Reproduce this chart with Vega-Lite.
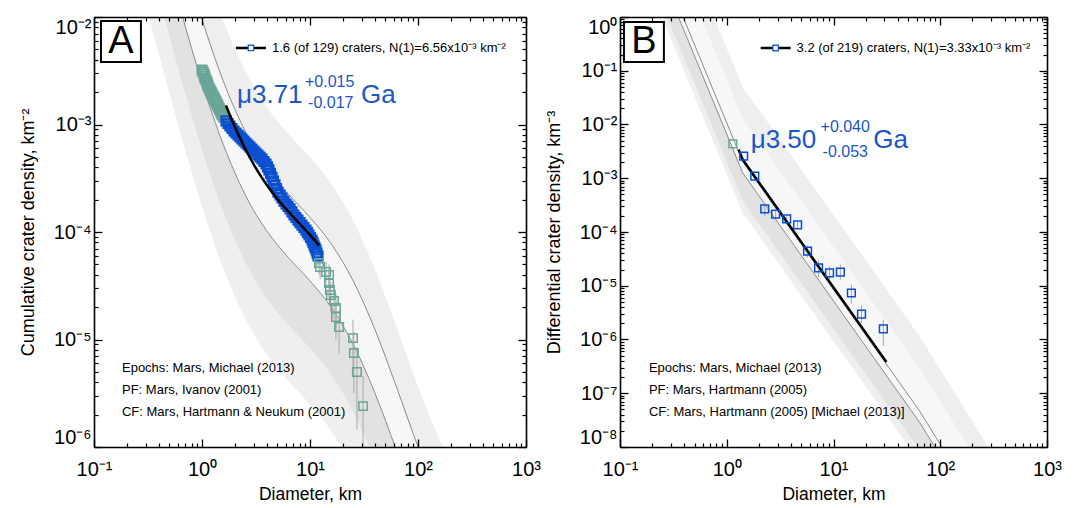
{
"$schema":"https://vega.github.io/schema/vega-lite/v6.json",
"padding":{"left":19,"top":16,"right":5,"bottom":5},
"bounds":"flush",
"spacing":94,
"config":{"view":{"stroke":null},"font":"Liberation Sans","axis":{"grid":false}},
"datasets":{
"bndA":[
{"d":0.2512,"b0":0.02557,"b1":0.0847,"b2":0.361,"b3":1.405,"b4":5.10},
{"d":0.3981,"b0":0.00458,"b1":0.01516,"b2":0.0647,"b3":0.2516,"b4":0.914},
{"d":0.631,"b0":0.000837,"b1":0.00277,"b2":0.0118,"b3":0.046,"b4":0.167},
{"d":1,"b0":0.0001738,"b1":0.000575,"b2":0.00245,"b3":0.00955,"b4":0.0347},
{"d":1.585,"b0":4.53e-5,"b1":0.00015,"b2":0.00064,"b3":0.00249,"b4":0.00904},
{"d":2.512,"b0":1.575e-5,"b1":5.21e-5,"b2":0.000222,"b3":0.000866,"b4":0.00314},
{"d":3.981,"b0":7.25e-6,"b1":2.4e-5,"b2":0.0001024,"b3":0.000399,"b4":0.001447},
{"d":6.31,"b0":4.1e-6,"b1":1.356e-5,"b2":5.78e-5,"b3":0.000225,"b4":0.000817},
{"d":10,"b0":2.49e-6,"b1":8.24e-6,"b2":3.51e-5,"b3":0.0001367,"b4":0.000496},
{"d":15.85,"b0":1.395e-6,"b1":4.62e-6,"b2":1.97e-5,"b3":7.67e-5,"b4":0.000278},
{"d":25.12,"b0":6.39e-7,"b1":2.11e-6,"b2":9.02e-6,"b3":3.51e-5,"b4":0.0001274},
{"d":39.81,"b0":2.27e-7,"b1":7.51e-7,"b2":3.2e-6,"b3":1.246e-5,"b4":4.53e-5},
{"d":63.1,"b0":6.6e-8,"b1":2.19e-7,"b2":9.32e-7,"b3":3.63e-6,"b4":1.317e-5},
{"d":100,"b0":1.83e-8,"b1":6.06e-8,"b2":2.59e-7,"b3":1.006e-6,"b4":3.65e-6},
{"d":158.5,"b0":5.89e-9,"b1":1.95e-8,"b2":8.32e-8,"b3":3.24e-7,"b4":1.176e-6},
{"d":251.2,"b0":2.5e-9,"b1":8.29e-9,"b2":3.54e-8,"b3":1.375e-7,"b4":4.99e-7}
],
"bndB":[
{"d":0.1585,"b0":8.51,"b1":14.19,"b2":47.33,"b3":76.77,"b5":483.2,"b4":1884},
{"d":1.41,"b0":0.000226,"b1":0.000378,"b2":0.001259,"b3":0.00204,"b5":0.01285,"b4":0.0501},
{"d":63.97,"b0":5.2e-9,"b1":8.67e-9,"b2":2.89e-8,"b3":4.69e-8,"b5":2.95e-7,"b4":1.15e-6},
{"d":631,"b0":3.43e-12,"b1":5.72e-12,"b2":1.91e-11,"b3":3.09e-11,"b5":1.95e-10,"b4":7.59e-10}
],
"denseA":[
{"d":1.0,"n":0.00321,"g":"out"},{"d":1.022,"n":0.003077,"g":"out"},{"d":1.044,"n":0.00295,"g":"out"},{"d":1.055,"n":0.002827,"g":"out"},{"d":1.066,"n":0.00271,"g":"out"},{"d":1.089,"n":0.002593,"g":"out"},{"d":1.113,"n":0.00248,"g":"out"},{"d":1.125,"n":0.002378,"g":"out"},{"d":1.137,"n":0.00228,"g":"out"},{"d":1.161,"n":0.002183,"g":"out"},{"d":1.186,"n":0.00209,"g":"out"},{"d":1.212,"n":0.002003,"g":"out"},{"d":1.238,"n":0.00192,"g":"out"},{"d":1.264,"n":0.001843,"g":"out"},{"d":1.291,"n":0.00177,"g":"out"},{"d":1.32,"n":0.001693,"g":"out"},{"d":1.349,"n":0.00162,"g":"out"},{"d":1.377,"n":0.001554,"g":"out"},{"d":1.406,"n":0.00149,"g":"out"},{"d":1.437,"n":0.001424,"g":"out"},{"d":1.468,"n":0.00136,"g":"out"},{"d":1.499,"n":0.001304,"g":"out"},{"d":1.531,"n":0.00125,"g":"out"},{"d":1.565,"n":0.001209,"g":"out"},{"d":1.599,"n":0.00117,"g":"out"},
{"d":1.668,"n":0.00108,"g":"fit"},{"d":1.741,"n":0.001022,"g":"fit"},{"d":1.816,"n":0.000968,"g":"fit"},{"d":1.895,"n":0.000918,"g":"fit"},{"d":1.978,"n":0.00087,"g":"fit"},{"d":2.064,"n":0.000833,"g":"fit"},{"d":2.154,"n":0.000798,"g":"fit"},{"d":2.247,"n":0.000765,"g":"fit"},{"d":2.344,"n":0.000733,"g":"fit"},{"d":2.446,"n":0.000702,"g":"fit"},{"d":2.553,"n":0.000673,"g":"fit"},{"d":2.665,"n":0.000645,"g":"fit"},{"d":2.781,"n":0.000618,"g":"fit"},{"d":2.902,"n":0.000592,"g":"fit"},{"d":3.029,"n":0.000567,"g":"fit"},{"d":3.162,"n":0.000543,"g":"fit"},{"d":3.3,"n":0.00052,"g":"fit"},{"d":3.444,"n":0.000499,"g":"fit"},{"d":3.594,"n":0.000478,"g":"fit"},{"d":3.751,"n":0.000453,"g":"fit"},{"d":3.915,"n":0.000429,"g":"fit"},{"d":4.04,"n":0.000403,"g":"fit"},{"d":4.169,"n":0.000378,"g":"fit"},{"d":4.305,"n":0.000351,"g":"fit"},{"d":4.446,"n":0.000325,"g":"fit"},{"d":4.592,"n":0.000298,"g":"fit"},{"d":4.742,"n":0.000274,"g":"fit"},{"d":4.897,"n":0.000254,"g":"fit"},{"d":5.057,"n":0.000235,"g":"fit"},{"d":5.277,"n":0.000221,"g":"fit"},{"d":5.506,"n":0.000207,"g":"fit"},{"d":5.745,"n":0.000194,"g":"fit"},{"d":5.995,"n":0.000182,"g":"fit"},{"d":6.256,"n":0.000173,"g":"fit"},{"d":6.528,"n":0.000164,"g":"fit"},{"d":6.812,"n":0.0001537,"g":"fit"},{"d":7.108,"n":0.000144,"g":"fit"},{"d":7.417,"n":0.0001363,"g":"fit"},{"d":7.74,"n":0.000129,"g":"fit"},{"d":8.078,"n":0.0001223,"g":"fit"},{"d":8.43,"n":0.000116,"g":"fit"},{"d":8.797,"n":0.0001098,"g":"fit"},{"d":9.18,"n":0.000104,"g":"fit"},{"d":9.48,"n":9.88e-5,"g":"fit"},{"d":9.79,"n":9.38e-5,"g":"fit"},{"d":10.11,"n":8.89e-5,"g":"fit"},{"d":10.44,"n":8.43e-5,"g":"fit"},{"d":10.66,"n":7.99e-5,"g":"fit"},{"d":10.89,"n":7.57e-5,"g":"fit"},{"d":11.13,"n":7.18e-5,"g":"fit"},{"d":11.37,"n":6.81e-5,"g":"fit"},{"d":11.61,"n":6.38e-5,"g":"fit"},{"d":11.86,"n":5.98e-5,"g":"fit"}
],
"ptsA":[
{"d":12.1,"n":5.15e-5,"g":"out"},{"d":12.4,"n":4.72e-5,"g":"out"},{"d":14.1,"n":4.25e-5,"g":"out"},{"d":15.0,"n":3.98e-5,"g":"out"},{"d":15.0,"n":3.36e-5,"g":"out"},{"d":15.3,"n":2.89e-5,"g":"out"},{"d":15.6,"n":2.59e-5,"g":"out"},{"d":16.7,"n":2.28e-5,"g":"out"},{"d":17.4,"n":1.96e-5,"g":"out"},{"d":17.4,"n":1.62e-5,"g":"out"},{"d":18.6,"n":1.31e-5,"g":"out"},{"d":25.0,"n":1.03e-5,"g":"out"},{"d":25.5,"n":7.49e-6,"g":"out"},{"d":27.2,"n":4.99e-6,"g":"out"},{"d":31.0,"n":2.4e-6,"g":"out"}
],
"errA":[
{"d":7.108,"lo":0.0001252,"hi":0.0001628},{"d":7.74,"lo":0.0001112,"hi":0.0001468},{"d":8.43,"lo":9.91e-5,"hi":0.0001329},{"d":9.18,"lo":8.8e-5,"hi":0.00012},{"d":9.79,"lo":7.86e-5,"hi":0.000109},{"d":10.44,"lo":6.99e-5,"hi":9.87e-5},{"d":10.89,"lo":6.21e-5,"hi":8.93e-5},{"d":11.37,"lo":5.52e-5,"hi":8.1e-5},{"d":11.86,"lo":4.77e-5,"hi":7.19e-5},
{"d":12.1,"lo":4.03e-5,"hi":6.27e-5},{"d":12.4,"lo":3.65e-5,"hi":5.8e-5},{"d":14.1,"lo":3.23e-5,"hi":5.27e-5},{"d":15.0,"lo":3.0e-5,"hi":4.97e-5},{"d":15.0,"lo":2.45e-5,"hi":4.27e-5},{"d":15.3,"lo":2.05e-5,"hi":3.73e-5},{"d":15.6,"lo":1.79e-5,"hi":3.39e-5},{"d":16.7,"lo":1.53e-5,"hi":3.03e-5},{"d":17.4,"lo":1.27e-5,"hi":2.65e-5},{"d":17.4,"lo":9.9e-6,"hi":2.25e-5},{"d":18.6,"lo":7.4e-6,"hi":1.88e-5},{"d":25.0,"lo":5.3e-6,"hi":1.53e-5},{"d":25.5,"lo":3.17e-6,"hi":1.18e-5},{"d":27.2,"lo":1.46e-6,"hi":8.5e-6},{"d":31.0,"lo":1e-9,"hi":4.6e-6}
],
"fitA":[
{"d":1.667,"n":0.0015},{"d":1.995,"n":0.000972},{"d":2.512,"n":0.000595},{"d":3.162,"n":0.000391},{"d":3.981,"n":0.000274},{"d":5.012,"n":0.000202},{"d":6.31,"n":0.000155},{"d":7.943,"n":0.0001206},{"d":10,"n":9.39e-5},{"d":12.1,"n":7.5e-5}
],
"ptsB":[
{"d":1.14,"n":0.00434,"g":"out"},{"d":1.44,"n":0.00259,"g":"fit"},{"d":1.83,"n":0.0011,"g":"fit"},{"d":2.27,"n":0.000268,"g":"fit"},{"d":2.87,"n":0.000216,"g":"fit"},{"d":3.64,"n":0.000175,"g":"fit"},{"d":4.61,"n":0.000135,"g":"fit"},{"d":5.71,"n":4.43e-5,"g":"fit"},{"d":7.24,"n":2.14e-5,"g":"fit"},{"d":9.18,"n":1.73e-5,"g":"fit"},{"d":11.6,"n":1.8e-5,"g":"fit"},{"d":14.7,"n":7.33e-6,"g":"fit"},{"d":18.3,"n":2.98e-6,"g":"fit"},{"d":29.3,"n":1.57e-6,"g":"fit"}
],
"errB":[
{"d":2.27,"lo":0.000195,"hi":0.00035},{"d":2.87,"lo":0.000185,"hi":0.00025},{"d":3.64,"lo":0.00015,"hi":0.000202},{"d":4.61,"lo":0.000112,"hi":0.00016},{"d":5.71,"lo":3.4e-5,"hi":5.6e-5},{"d":7.24,"lo":1.45e-5,"hi":2.95e-5},{"d":9.18,"lo":1.3e-5,"hi":2.3e-5},{"d":11.6,"lo":1.3e-5,"hi":2.5e-5},{"d":14.7,"lo":4.6e-6,"hi":1.05e-5},{"d":18.3,"lo":2.0e-6,"hi":4.3e-6},{"d":29.3,"lo":7.6e-7,"hi":2.35e-6}
],
"fitB":[
{"d":1.29,"n":0.00344},{"d":1.41,"n":0.002228},{"d":31.3,"n":3.8e-7}
]
},
"hconcat":[
{
"width":432,"height":430,
"resolve":{"axis":{"x":"independent","y":"independent"}},
"layer":[
{"data":{"name":"bndA"},"mark":{"type":"area","clip":true,"interpolate":"monotone","color":"#efefef"},
 "encoding":{
  "x":{"field":"d","type":"quantitative","scale":{"type":"log","domain":[0.1,1000],"nice":false},
   "axis":{"orient":"bottom","values":[0.1,1,10,100,1000],"labelExpr":"'10' + ['⁻⁸','⁻⁷','⁻⁶','⁻⁵','⁻⁴','⁻³','⁻²','⁻¹','⁰','¹','²','³'][round(log(datum.value)/LN10)+8]","ticks":false,"domain":false,"grid":false,"labelFontSize":20,"labelPadding":12,"labelFlush":false,"labelColor":"#000","title":"Diameter, km","titleFontSize":17.5,"titleFontWeight":"normal","titleColor":"#000","titlePadding":6,"zindex":1}},
  "y":{"field":"b0","type":"quantitative","scale":{"type":"log","domain":[1e-6,0.01],"nice":false},
   "axis":{"orient":"left","values":[1e-6,1e-5,0.0001,0.001,0.01],"labelExpr":"'10' + ['⁻⁸','⁻⁷','⁻⁶','⁻⁵','⁻⁴','⁻³','⁻²','⁻¹','⁰','¹','²','³'][round(log(datum.value)/LN10)+8]","ticks":false,"domain":false,"grid":false,"labelFontSize":20,"labelPadding":3,"labelFlush":true,"labelColor":"#000","title":"Cumulative crater density, km⁻²","titleFontSize":18,"titleFontWeight":"normal","titleColor":"#000","titlePadding":16,"zindex":1}},
  "y2":{"field":"b1"}}},
{"data":{"name":"bndA"},"mark":{"type":"area","clip":true,"interpolate":"monotone","color":"#e2e2e2"},
 "encoding":{
  "x":{"field":"d","type":"quantitative","scale":{"type":"log","domain":[0.1,1000],"nice":false},
   "axis":{"orient":"bottom","values":[0.1,1,10,100,1000],"labels":false,"ticks":true,"tickSize":-8,"tickWidth":1.3,"tickColor":"#000","domain":true,"domainColor":"#000","domainWidth":1.6,"grid":false,"title":null,"zindex":1}},
  "y":{"field":"b1","type":"quantitative","scale":{"type":"log","domain":[1e-6,0.01],"nice":false},
   "axis":{"orient":"left","values":[1e-6,1e-5,0.0001,0.001,0.01],"labels":false,"ticks":true,"tickSize":-8,"tickWidth":1.3,"tickColor":"#000","domain":true,"domainColor":"#000","domainWidth":1.6,"grid":false,"title":null,"zindex":1}},
  "y2":{"field":"b2"}}},
{"data":{"name":"bndA"},"mark":{"type":"area","clip":true,"interpolate":"monotone","color":"#f7f7f7"},
 "encoding":{
  "x":{"field":"d","type":"quantitative","scale":{"type":"log","domain":[0.1,1000],"nice":false},
   "axis":{"orient":"bottom","values":[0.2,0.3,0.4,0.5,0.6,0.7,0.8,0.9,2,3,4,5,6,7,8,9,20,30,40,50,60,70,80,90,200,300,400,500,600,700,800,900],"labels":false,"ticks":true,"tickSize":-4,"tickWidth":1.2,"tickColor":"#000","domain":false,"grid":false,"title":null,"zindex":1}},
  "y":{"field":"b2","type":"quantitative","scale":{"type":"log","domain":[1e-6,0.01],"nice":false},
   "axis":{"orient":"left","values":[2e-6,3e-6,4e-6,5e-6,6e-6,7e-6,8e-6,9e-6,2e-5,3e-5,4e-5,5e-5,6e-5,7e-5,8e-5,9e-5,0.0002,0.0003,0.0004,0.0005,0.0006,0.0007,0.0008,0.0009,0.002,0.003,0.004,0.005,0.006,0.007,0.008,0.009],"labels":false,"ticks":true,"tickSize":-4,"tickWidth":1.2,"tickColor":"#000","domain":false,"grid":false,"title":null,"zindex":1}},
  "y2":{"field":"b3"}}},
{"data":{"name":"bndA"},"mark":{"type":"area","clip":true,"interpolate":"monotone","color":"#eeeeee"},
 "encoding":{
  "x":{"field":"d","type":"quantitative","scale":{"type":"log","domain":[0.1,1000],"nice":false},
   "axis":{"orient":"top","values":[0.1,1,10,100,1000],"labels":false,"ticks":true,"tickSize":-8,"tickWidth":1.3,"tickColor":"#000","domain":true,"domainColor":"#000","domainWidth":1.6,"grid":false,"title":null,"zindex":1}},
  "y":{"field":"b3","type":"quantitative","scale":{"type":"log","domain":[1e-6,0.01],"nice":false},
   "axis":{"orient":"right","values":[1e-6,1e-5,0.0001,0.001,0.01],"labels":false,"ticks":true,"tickSize":-8,"tickWidth":1.3,"tickColor":"#000","domain":true,"domainColor":"#000","domainWidth":1.6,"grid":false,"title":null,"zindex":1}},
  "y2":{"field":"b4"}}},
{"data":{"name":"bndA"},"mark":{"type":"line","clip":true,"interpolate":"monotone","color":"#8a8a8a","strokeWidth":1},
 "encoding":{
  "x":{"field":"d","type":"quantitative","scale":{"type":"log","domain":[0.1,1000],"nice":false},
   "axis":{"orient":"top","values":[0.2,0.3,0.4,0.5,0.6,0.7,0.8,0.9,2,3,4,5,6,7,8,9,20,30,40,50,60,70,80,90,200,300,400,500,600,700,800,900],"labels":false,"ticks":true,"tickSize":-4,"tickWidth":1.2,"tickColor":"#000","domain":false,"grid":false,"title":null,"zindex":1}},
  "y":{"field":"b2","type":"quantitative","scale":{"type":"log","domain":[1e-6,0.01],"nice":false},
   "axis":{"orient":"right","values":[2e-6,3e-6,4e-6,5e-6,6e-6,7e-6,8e-6,9e-6,2e-5,3e-5,4e-5,5e-5,6e-5,7e-5,8e-5,9e-5,0.0002,0.0003,0.0004,0.0005,0.0006,0.0007,0.0008,0.0009,0.002,0.003,0.004,0.005,0.006,0.007,0.008,0.009],"labels":false,"ticks":true,"tickSize":-4,"tickWidth":1.2,"tickColor":"#000","domain":false,"grid":false,"title":null,"zindex":1}}}},
{"data":{"name":"bndA"},"mark":{"type":"line","clip":true,"interpolate":"monotone","color":"#8a8a8a","strokeWidth":1},
 "encoding":{
  "x":{"field":"d","type":"quantitative","scale":{"type":"log","domain":[0.1,1000],"nice":false},"axis":null},
  "y":{"field":"b3","type":"quantitative","scale":{"type":"log","domain":[1e-6,0.01],"nice":false},"axis":null}}},
{"data":{"name":"errA"},"mark":{"type":"rule","clip":true,"color":"#a8a8a8","strokeWidth":1},
 "encoding":{
  "x":{"field":"d","type":"quantitative","scale":{"type":"log","domain":[0.1,1000],"nice":false},"axis":null},
  "y":{"field":"lo","type":"quantitative","scale":{"type":"log","domain":[1e-6,0.01],"nice":false},"axis":null},
  "y2":{"field":"hi"}}},
{"data":{"name":"denseA"},"mark":{"type":"point","shape":"square","filled":false,"size":80,"strokeWidth":2.2,"opacity":1,"clip":true},
 "encoding":{
  "x":{"field":"d","type":"quantitative","scale":{"type":"log","domain":[0.1,1000],"nice":false},"axis":null},
  "y":{"field":"n","type":"quantitative","scale":{"type":"log","domain":[1e-6,0.01],"nice":false},"axis":null},
  "color":{"field":"g","type":"nominal","scale":{"domain":["fit","out"],"range":["#0a4fd0","#6aa598"]},"legend":null}}},
{"data":{"name":"ptsA"},"mark":{"type":"point","shape":"square","filled":false,"size":72,"strokeWidth":1.5,"opacity":1,"clip":true},
 "encoding":{
  "x":{"field":"d","type":"quantitative","scale":{"type":"log","domain":[0.1,1000],"nice":false},"axis":null},
  "y":{"field":"n","type":"quantitative","scale":{"type":"log","domain":[1e-6,0.01],"nice":false},"axis":null},
  "color":{"field":"g","type":"nominal","scale":{"domain":["fit","out"],"range":["#0a4fd0","#64a093"]},"legend":null}}},
{"data":{"name":"fitA"},"mark":{"type":"line","clip":true,"interpolate":"monotone","color":"#000","strokeWidth":2.5},
 "encoding":{
  "x":{"field":"d","type":"quantitative","scale":{"type":"log","domain":[0.1,1000],"nice":false},"axis":null},
  "y":{"field":"n","type":"quantitative","scale":{"type":"log","domain":[1e-6,0.01],"nice":false},"axis":null}}},
{"data":{"values":[{"d":2.06,"n":0.00515},{"d":3.91,"n":0.00515}]},"mark":{"type":"line","color":"#000","strokeWidth":2.5},
 "encoding":{
  "x":{"field":"d","type":"quantitative","scale":{"type":"log","domain":[0.1,1000],"nice":false},"axis":null},
  "y":{"field":"n","type":"quantitative","scale":{"type":"log","domain":[1e-6,0.01],"nice":false},"axis":null}}},
{"data":{"values":[{"d":2.84,"n":0.00515}]},"mark":{"type":"point","shape":"square","filled":false,"fill":"#ffffff","size":30,"strokeWidth":1.3,"opacity":1,"color":"#1a5fd0"},
 "encoding":{
  "x":{"field":"d","type":"quantitative","scale":{"type":"log","domain":[0.1,1000],"nice":false},"axis":null},
  "y":{"field":"n","type":"quantitative","scale":{"type":"log","domain":[1e-6,0.01],"nice":false},"axis":null}}},
{"data":{"values":[{"d":4.45,"n":0.00515,"t":"1.6 (of 129) craters, N(1)=6.56x10⁻³ km⁻²"}]},"mark":{"type":"text","align":"left","baseline":"middle","fontSize":13,"color":"#000"},
 "encoding":{
  "x":{"field":"d","type":"quantitative","scale":{"type":"log","domain":[0.1,1000],"nice":false},"axis":null},
  "y":{"field":"n","type":"quantitative","scale":{"type":"log","domain":[1e-6,0.01],"nice":false},"axis":null},
  "text":{"field":"t"}}},
{"data":{"values":[{"d":2.109,"n":0.00188,"t":"μ3.71"},{"d":29.65,"n":0.00188,"t":"Ga"}]},"mark":{"type":"text","align":"left","baseline":"middle","fontSize":26,"color":"#1a56c8"},
 "encoding":{
  "x":{"field":"d","type":"quantitative","scale":{"type":"log","domain":[0.1,1000],"nice":false},"axis":null},
  "y":{"field":"n","type":"quantitative","scale":{"type":"log","domain":[1e-6,0.01],"nice":false},"axis":null},
  "text":{"field":"t"}}},
{"data":{"values":[{"d":8.99,"n":0.00248,"t":"+0.015"},{"d":9.6,"n":0.001585,"t":"-0.017"}]},"mark":{"type":"text","align":"left","baseline":"middle","fontSize":16,"color":"#1a56c8"},
 "encoding":{
  "x":{"field":"d","type":"quantitative","scale":{"type":"log","domain":[0.1,1000],"nice":false},"axis":null},
  "y":{"field":"n","type":"quantitative","scale":{"type":"log","domain":[1e-6,0.01],"nice":false},"axis":null},
  "text":{"field":"t"}}},
{"data":{"values":[{"d":0.1816,"n":5.43e-6,"t":"Epochs: Mars, Michael (2013)"},{"d":0.1816,"n":3.39e-6,"t":"PF: Mars, Ivanov (2001)"},{"d":0.1816,"n":2.12e-6,"t":"CF: Mars, Hartmann & Neukum (2001)"}]},"mark":{"type":"text","align":"left","baseline":"middle","fontSize":13,"color":"#000"},
 "encoding":{
  "x":{"field":"d","type":"quantitative","scale":{"type":"log","domain":[0.1,1000],"nice":false},"axis":null},
  "y":{"field":"n","type":"quantitative","scale":{"type":"log","domain":[1e-6,0.01],"nice":false},"axis":null},
  "text":{"field":"t"}}},
{"data":{"values":[{"x1":0.116,"x2":0.272,"y1":0.00918,"y2":0.00381}]},"mark":{"type":"rect","fill":"#ffffff","stroke":"#000","strokeWidth":2},
 "encoding":{
  "x":{"field":"x1","type":"quantitative","scale":{"type":"log","domain":[0.1,1000],"nice":false},"axis":null},
  "x2":{"field":"x2"},
  "y":{"field":"y1","type":"quantitative","scale":{"type":"log","domain":[1e-6,0.01],"nice":false},"axis":null},
  "y2":{"field":"y2"}}},
{"data":{"values":[{"d":0.178,"n":0.00591,"t":"A"}]},"mark":{"type":"text","align":"center","baseline":"middle","fontSize":38,"color":"#000"},
 "encoding":{
  "x":{"field":"d","type":"quantitative","scale":{"type":"log","domain":[0.1,1000],"nice":false},"axis":null},
  "y":{"field":"n","type":"quantitative","scale":{"type":"log","domain":[1e-6,0.01],"nice":false},"axis":null},
  "text":{"field":"t"}}}
]
},
{
"width":427,"height":430,
"resolve":{"axis":{"x":"independent","y":"independent"}},
"layer":[
{"data":{"name":"bndB"},"mark":{"type":"area","clip":true,"color":"#efefef"},
 "encoding":{
  "x":{"field":"d","type":"quantitative","scale":{"type":"log","domain":[0.1,1000],"nice":false},
   "axis":{"orient":"bottom","values":[0.1,1,10,100,1000],"labelExpr":"'10' + ['⁻⁸','⁻⁷','⁻⁶','⁻⁵','⁻⁴','⁻³','⁻²','⁻¹','⁰','¹','²','³'][round(log(datum.value)/LN10)+8]","ticks":false,"domain":false,"grid":false,"labelFontSize":20,"labelPadding":12,"labelFlush":false,"labelColor":"#000","title":"Diameter, km","titleFontSize":17.5,"titleFontWeight":"normal","titleColor":"#000","titlePadding":6,"zindex":1}},
  "y":{"field":"b0","type":"quantitative","scale":{"type":"log","domain":[1e-8,1],"nice":false},
   "axis":{"orient":"left","values":[1e-8,1e-7,1e-6,1e-5,0.0001,0.001,0.01,0.1,1],"labelExpr":"'10' + ['⁻⁸','⁻⁷','⁻⁶','⁻⁵','⁻⁴','⁻³','⁻²','⁻¹','⁰','¹','²','³'][round(log(datum.value)/LN10)+8]","ticks":false,"domain":false,"grid":false,"labelFontSize":20,"labelPadding":3,"labelFlush":true,"labelColor":"#000","title":"Differential crater density, km⁻³","titleFontSize":18,"titleFontWeight":"normal","titleColor":"#000","titlePadding":16,"zindex":1}},
  "y2":{"field":"b1"}}},
{"data":{"name":"bndB"},"mark":{"type":"area","clip":true,"color":"#e2e2e2"},
 "encoding":{
  "x":{"field":"d","type":"quantitative","scale":{"type":"log","domain":[0.1,1000],"nice":false},
   "axis":{"orient":"bottom","values":[0.1,1,10,100,1000],"labels":false,"ticks":true,"tickSize":-8,"tickWidth":1.3,"tickColor":"#000","domain":true,"domainColor":"#000","domainWidth":1.6,"grid":false,"title":null,"zindex":1}},
  "y":{"field":"b1","type":"quantitative","scale":{"type":"log","domain":[1e-8,1],"nice":false},
   "axis":{"orient":"left","values":[1e-8,1e-7,1e-6,1e-5,0.0001,0.001,0.01,0.1,1],"labels":false,"ticks":true,"tickSize":-8,"tickWidth":1.3,"tickColor":"#000","domain":true,"domainColor":"#000","domainWidth":1.6,"grid":false,"title":null,"zindex":1}},
  "y2":{"field":"b2"}}},
{"data":{"name":"bndB"},"mark":{"type":"area","clip":true,"color":"#f7f7f7"},
 "encoding":{
  "x":{"field":"d","type":"quantitative","scale":{"type":"log","domain":[0.1,1000],"nice":false},
   "axis":{"orient":"bottom","values":[0.2,0.3,0.4,0.5,0.6,0.7,0.8,0.9,2,3,4,5,6,7,8,9,20,30,40,50,60,70,80,90,200,300,400,500,600,700,800,900],"labels":false,"ticks":true,"tickSize":-4,"tickWidth":1.2,"tickColor":"#000","domain":false,"grid":false,"title":null,"zindex":1}},
  "y":{"field":"b2","type":"quantitative","scale":{"type":"log","domain":[1e-8,1],"nice":false},
   "axis":{"orient":"left","values":[2e-8,3e-8,4e-8,5e-8,6e-8,7e-8,8e-8,9e-8,2e-7,3e-7,4e-7,5e-7,6e-7,7e-7,8e-7,9e-7,2e-6,3e-6,4e-6,5e-6,6e-6,7e-6,8e-6,9e-6,2e-5,3e-5,4e-5,5e-5,6e-5,7e-5,8e-5,9e-5,0.0002,0.0003,0.0004,0.0005,0.0006,0.0007,0.0008,0.0009,0.002,0.003,0.004,0.005,0.006,0.007,0.008,0.009,0.02,0.03,0.04,0.05,0.06,0.07,0.08,0.09,0.2,0.3,0.4,0.5,0.6,0.7,0.8,0.9],"labels":false,"ticks":true,"tickSize":-4,"tickWidth":1.2,"tickColor":"#000","domain":false,"grid":false,"title":null,"zindex":1}},
  "y2":{"field":"b5"}}},
{"data":{"name":"bndB"},"mark":{"type":"area","clip":true,"color":"#eeeeee"},
 "encoding":{
  "x":{"field":"d","type":"quantitative","scale":{"type":"log","domain":[0.1,1000],"nice":false},
   "axis":{"orient":"top","values":[0.1,1,10,100,1000],"labels":false,"ticks":true,"tickSize":-8,"tickWidth":1.3,"tickColor":"#000","domain":true,"domainColor":"#000","domainWidth":1.6,"grid":false,"title":null,"zindex":1}},
  "y":{"field":"b5","type":"quantitative","scale":{"type":"log","domain":[1e-8,1],"nice":false},
   "axis":{"orient":"right","values":[1e-8,1e-7,1e-6,1e-5,0.0001,0.001,0.01,0.1,1],"labels":false,"ticks":true,"tickSize":-8,"tickWidth":1.3,"tickColor":"#000","domain":true,"domainColor":"#000","domainWidth":1.6,"grid":false,"title":null,"zindex":1}},
  "y2":{"field":"b4"}}},
{"data":{"name":"bndB"},"mark":{"type":"line","clip":true,"color":"#8a8a8a","strokeWidth":1},
 "encoding":{
  "x":{"field":"d","type":"quantitative","scale":{"type":"log","domain":[0.1,1000],"nice":false},
   "axis":{"orient":"top","values":[0.2,0.3,0.4,0.5,0.6,0.7,0.8,0.9,2,3,4,5,6,7,8,9,20,30,40,50,60,70,80,90,200,300,400,500,600,700,800,900],"labels":false,"ticks":true,"tickSize":-4,"tickWidth":1.2,"tickColor":"#000","domain":false,"grid":false,"title":null,"zindex":1}},
  "y":{"field":"b2","type":"quantitative","scale":{"type":"log","domain":[1e-8,1],"nice":false},
   "axis":{"orient":"right","values":[2e-8,3e-8,4e-8,5e-8,6e-8,7e-8,8e-8,9e-8,2e-7,3e-7,4e-7,5e-7,6e-7,7e-7,8e-7,9e-7,2e-6,3e-6,4e-6,5e-6,6e-6,7e-6,8e-6,9e-6,2e-5,3e-5,4e-5,5e-5,6e-5,7e-5,8e-5,9e-5,0.0002,0.0003,0.0004,0.0005,0.0006,0.0007,0.0008,0.0009,0.002,0.003,0.004,0.005,0.006,0.007,0.008,0.009,0.02,0.03,0.04,0.05,0.06,0.07,0.08,0.09,0.2,0.3,0.4,0.5,0.6,0.7,0.8,0.9],"labels":false,"ticks":true,"tickSize":-4,"tickWidth":1.2,"tickColor":"#000","domain":false,"grid":false,"title":null,"zindex":1}}}},
{"data":{"name":"bndB"},"mark":{"type":"line","clip":true,"color":"#8a8a8a","strokeWidth":1},
 "encoding":{
  "x":{"field":"d","type":"quantitative","scale":{"type":"log","domain":[0.1,1000],"nice":false},"axis":null},
  "y":{"field":"b3","type":"quantitative","scale":{"type":"log","domain":[1e-8,1],"nice":false},"axis":null}}},
{"data":{"name":"errB"},"mark":{"type":"rule","clip":true,"color":"#a8a8a8","strokeWidth":1},
 "encoding":{
  "x":{"field":"d","type":"quantitative","scale":{"type":"log","domain":[0.1,1000],"nice":false},"axis":null},
  "y":{"field":"lo","type":"quantitative","scale":{"type":"log","domain":[1e-8,1],"nice":false},"axis":null},
  "y2":{"field":"hi"}}},
{"data":{"name":"fitB"},"mark":{"type":"line","clip":true,"color":"#000","strokeWidth":2.5},
 "encoding":{
  "x":{"field":"d","type":"quantitative","scale":{"type":"log","domain":[0.1,1000],"nice":false},"axis":null},
  "y":{"field":"n","type":"quantitative","scale":{"type":"log","domain":[1e-8,1],"nice":false},"axis":null}}},
{"data":{"name":"ptsB"},"mark":{"type":"point","shape":"square","filled":false,"size":60,"strokeWidth":1.5,"opacity":1,"clip":true},
 "encoding":{
  "x":{"field":"d","type":"quantitative","scale":{"type":"log","domain":[0.1,1000],"nice":false},"axis":null},
  "y":{"field":"n","type":"quantitative","scale":{"type":"log","domain":[1e-8,1],"nice":false},"axis":null},
  "color":{"field":"g","type":"nominal","scale":{"domain":["fit","out"],"range":["#2b6fd6","#7fb3a8"]},"legend":null}}},
{"data":{"values":[{"d":2.08,"n":0.265},{"d":3.96,"n":0.265}]},"mark":{"type":"line","color":"#000","strokeWidth":2.5},
 "encoding":{
  "x":{"field":"d","type":"quantitative","scale":{"type":"log","domain":[0.1,1000],"nice":false},"axis":null},
  "y":{"field":"n","type":"quantitative","scale":{"type":"log","domain":[1e-8,1],"nice":false},"axis":null}}},
{"data":{"values":[{"d":2.87,"n":0.265}]},"mark":{"type":"point","shape":"square","filled":false,"fill":"#ffffff","size":30,"strokeWidth":1.3,"opacity":1,"color":"#1a5fd0"},
 "encoding":{
  "x":{"field":"d","type":"quantitative","scale":{"type":"log","domain":[0.1,1000],"nice":false},"axis":null},
  "y":{"field":"n","type":"quantitative","scale":{"type":"log","domain":[1e-8,1],"nice":false},"axis":null}}},
{"data":{"values":[{"d":4.51,"n":0.265,"t":"3.2 (of 219) craters, N(1)=3.33x10⁻³ km⁻²"}]},"mark":{"type":"text","align":"left","baseline":"middle","fontSize":13,"color":"#000"},
 "encoding":{
  "x":{"field":"d","type":"quantitative","scale":{"type":"log","domain":[0.1,1000],"nice":false},"axis":null},
  "y":{"field":"n","type":"quantitative","scale":{"type":"log","domain":[1e-8,1],"nice":false},"axis":null},
  "text":{"field":"t"}}},
{"data":{"values":[{"d":1.676,"n":0.00515,"t":"μ3.50"},{"d":23.6,"n":0.00515,"t":"Ga"}]},"mark":{"type":"text","align":"left","baseline":"middle","fontSize":26,"color":"#1a56c8"},
 "encoding":{
  "x":{"field":"d","type":"quantitative","scale":{"type":"log","domain":[0.1,1000],"nice":false},"axis":null},
  "y":{"field":"n","type":"quantitative","scale":{"type":"log","domain":[1e-8,1],"nice":false},"axis":null},
  "text":{"field":"t"}}},
{"data":{"values":[{"d":7.56,"n":0.00898,"t":"+0.040"},{"d":7.9,"n":0.00308,"t":"-0.053"}]},"mark":{"type":"text","align":"left","baseline":"middle","fontSize":16,"color":"#1a56c8"},
 "encoding":{
  "x":{"field":"d","type":"quantitative","scale":{"type":"log","domain":[0.1,1000],"nice":false},"axis":null},
  "y":{"field":"n","type":"quantitative","scale":{"type":"log","domain":[1e-8,1],"nice":false},"axis":null},
  "text":{"field":"t"}}},
{"data":{"values":[{"d":0.1866,"n":2.95e-7,"t":"Epochs: Mars, Michael (2013)"},{"d":0.1866,"n":1.15e-7,"t":"PF: Mars, Hartmann (2005)"},{"d":0.1866,"n":4.48e-8,"t":"CF: Mars, Hartmann (2005) [Michael (2013)]"}]},"mark":{"type":"text","align":"left","baseline":"middle","fontSize":13,"color":"#000"},
 "encoding":{
  "x":{"field":"d","type":"quantitative","scale":{"type":"log","domain":[0.1,1000],"nice":false},"axis":null},
  "y":{"field":"n","type":"quantitative","scale":{"type":"log","domain":[1e-8,1],"nice":false},"axis":null},
  "text":{"field":"t"}}},
{"data":{"values":[{"x1":0.1089,"x2":0.2577,"y1":0.807,"y2":0.1455}]},"mark":{"type":"rect","fill":"#ffffff","stroke":"#000","strokeWidth":2},
 "encoding":{
  "x":{"field":"x1","type":"quantitative","scale":{"type":"log","domain":[0.1,1000],"nice":false},"axis":null},
  "x2":{"field":"x2"},
  "y":{"field":"y1","type":"quantitative","scale":{"type":"log","domain":[1e-8,1],"nice":false},"axis":null},
  "y2":{"field":"y2"}}},
{"data":{"values":[{"d":0.1676,"n":0.343,"t":"B"}]},"mark":{"type":"text","align":"center","baseline":"middle","fontSize":38,"color":"#000"},
 "encoding":{
  "x":{"field":"d","type":"quantitative","scale":{"type":"log","domain":[0.1,1000],"nice":false},"axis":null},
  "y":{"field":"n","type":"quantitative","scale":{"type":"log","domain":[1e-8,1],"nice":false},"axis":null},
  "text":{"field":"t"}}}
]
}
]
}
